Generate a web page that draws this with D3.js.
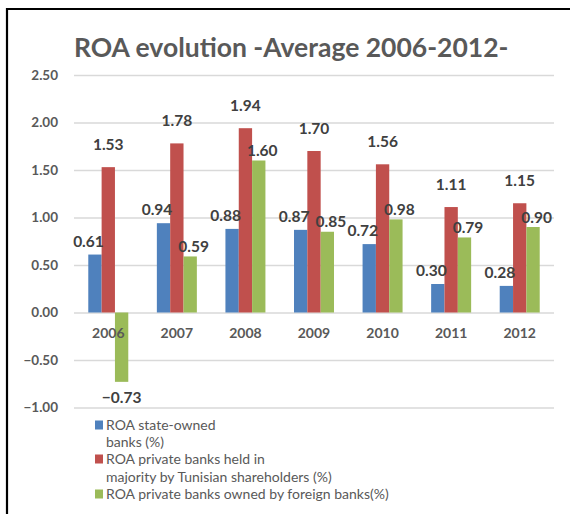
<!DOCTYPE html>
<html>
<head>
<meta charset="utf-8">
<script src="https://cdn.jsdelivr.net/npm/d3@7"></script>
<style>
  html, body { margin: 0; padding: 0; background: #fff; }
  svg { display: block; }
</style>
</head>
<body>
<svg id="chart" width="570" height="514"></svg>
<script>
// ROA by year for three groups of banks (%)
const years = ["2006", "2007", "2008", "2009", "2010", "2011", "2012"];
const stateOwned = [0.61, 0.94, 0.88, 0.87, 0.72, 0.30, 0.28];
const privateTunisian = [1.53, 1.78, 1.94, 1.70, 1.56, 1.11, 1.15];
const privateForeign = [-0.73, 0.59, 1.60, 0.85, 0.98, 0.79, 0.90];
const yTicks = [-1.0, -0.5, 0.0, 0.5, 1.0, 1.5, 2.0, 2.5];
const chartTitle = "ROA evolution -Average 2006-2012-";

const seriesValues = [stateOwned, privateTunisian, privateForeign];
const colors = ["#4f81bd", "#c0504d", "#9bbb59"];
// label placement per series (horizontal nudge, gap above bar)
const labelDx = [-6.5, 0, 3.5];
const labelGap = [13, 22, 9.5];

const svg = d3.select("#chart");
const font = "Lato, 'Open Sans', sans-serif";
const grey = "#595959";

// outer frame (top and left edges)
svg.append("line").attr("x1", 6).attr("x2", 570).attr("y1", 9).attr("y2", 9)
  .attr("stroke", "#000").attr("stroke-width", 2.2);
svg.append("line").attr("x1", 7).attr("x2", 7).attr("y1", 8).attr("y2", 514)
  .attr("stroke", "#000").attr("stroke-width", 2.2);

// title
svg.append("text")
  .attr("x", 74).attr("y", 57)
  .attr("font-family", font).attr("font-weight", 700)
  .attr("font-size", 26.5).attr("fill", grey)
  .text(chartTitle);

const left = 74, right = 554;
const y = d3.scaleLinear().domain([-1, 2.5]).range([407.5, 75]);
const x0 = d3.scaleBand().domain(years).range([left, right]).paddingInner(0.4167).paddingOuter(0.2083);
const x1 = d3.scaleBand().domain(d3.range(3)).range([0, x0.bandwidth()]);

// gridlines and value axis
const yAxis = d3.axisLeft(y).tickValues(yTicks).tickFormat(d3.format(".2f"))
  .tickSize(-(right - left)).tickPadding(16);
const gy = svg.append("g").attr("transform", `translate(${left},0)`).call(yAxis);
gy.select(".domain").remove();
gy.selectAll(".tick line").attr("stroke", "#d9d9d9").attr("stroke-width", 1.5);
gy.selectAll(".tick text")
  .attr("font-family", font).attr("font-weight", 700)
  .attr("font-size", 13.5).attr("fill", grey);

// bars
const rows = years.map((yr, i) => ({ yr, vals: seriesValues.map(s => s[i]) }));
const groups = svg.append("g").selectAll("g").data(rows).join("g")
  .attr("transform", d => `translate(${x0(d.yr)},0)`);

groups.selectAll("rect").data(d => d.vals.map((v, k) => ({ v, k }))).join("rect")
  .attr("x", d => x1(d.k))
  .attr("width", x1.bandwidth())
  .attr("y", d => y(Math.max(0, d.v)))
  .attr("height", d => Math.abs(y(d.v) - y(0)))
  .attr("fill", d => colors[d.k]);

// value labels
groups.selectAll("text.val").data(d => d.vals.map((v, k) => ({ v, k }))).join("text")
  .attr("class", "val")
  .attr("x", d => x1(d.k) + x1.bandwidth() / 2 + (d.v < 0 ? 0 : labelDx[d.k]))
  .attr("y", d => d.v < 0 ? y(d.v) + 21 : y(d.v) - labelGap[d.k] + 5)
  .attr("text-anchor", "middle")
  .attr("font-family", font).attr("font-weight", 700)
  .attr("font-size", 15.5).attr("fill", "#404040")
  .text(d => d3.format(".2f")(d.v));

// category labels
svg.append("g").selectAll("text").data(years).join("text")
  .attr("x", d => x0(d) + x0.bandwidth() / 2)
  .attr("y", 338)
  .attr("text-anchor", "middle")
  .attr("font-family", font).attr("font-weight", 700)
  .attr("font-size", 14).attr("fill", grey)
  .text(d => d);

// legend (wrapped entries)
const legendLines = [
  { k: 0, lines: ["ROA state-owned", "banks (%)"], y: [430, 447] },
  { k: 1, lines: ["ROA private banks held in", "majority by Tunisian shareholders (%)"], y: [464, 482] },
  { k: 2, lines: ["ROA private banks owned by foreign banks(%)"], y: [499] }
];
const lg = svg.append("g");
legendLines.forEach(item => {
  lg.append("rect")
    .attr("x", 95).attr("y", item.y[0] - 9.5)
    .attr("width", 8).attr("height", 9)
    .attr("fill", colors[item.k]);
  item.lines.forEach((t, j) => {
    lg.append("text")
      .attr("x", 106).attr("y", item.y[j])
      .attr("font-family", font).attr("font-size", 14)
      .attr("fill", grey)
      .text(t);
  });
});
</script>
</body>
</html>
